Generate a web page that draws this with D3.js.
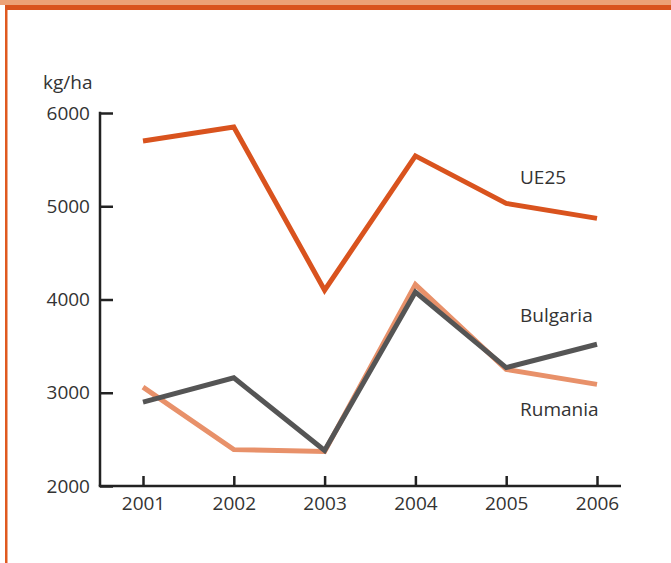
<!DOCTYPE html>
<html>
<head>
<meta charset="utf-8">
<script src="https://cdn.jsdelivr.net/npm/d3@7"></script>
<style>
  body { margin: 0; background: #fff; }
  text { font-family: "Open Sans", "Noto Sans", sans-serif; fill: #333; }
</style>
</head>
<body>
<div id="chart"></div>
<script>
// kg/ha by year
var years = [2001, 2002, 2003, 2004, 2005, 2006];
var ue25 = [5700, 5850, 4100, 5540, 5030, 4870];
var bulgaria = [2900, 3160, 2380, 4080, 3270, 3520];
var rumania = [3060, 2390, 2370, 4160, 3250, 3090];
var yTicks = [2000, 3000, 4000, 5000, 6000];

var series = [
  {name: "Rumania", values: rumania, color: "#e8916a", labelY: 416},
  {name: "Bulgaria", values: bulgaria, color: "#555555", labelY: 322},
  {name: "UE25", values: ue25, color: "#d9531e", labelY: 184}
];

var svgWidth = 671;
var svgHeight = 563;

var svg = d3.select("#chart")
  .append("svg")
  .attr("width", svgWidth)
  .attr("height", svgHeight);

// page frame: orange bands on top, thin orange rule on the left
svg.append("rect").attr("x", 0).attr("y", 0).attr("width", svgWidth).attr("height", 5).attr("fill", "#eca277");
svg.append("rect").attr("x", 5).attr("y", 5).attr("width", svgWidth - 5).attr("height", 5).attr("fill", "#d9541e");
svg.append("rect").attr("x", 5).attr("y", 10).attr("width", 2.5).attr("height", svgHeight - 10).attr("fill", "#e05a20");

var x = d3.scaleLinear()
  .domain([2001, 2006])
  .range([143, 597]);

var y = d3.scaleLinear()
  .domain([2000, 6000])
  .range([486, 113]);

// y axis, ticks pointing into the plot
var yAxis = svg.append("g")
  .attr("transform", "translate(100,0)")
  .call(d3.axisLeft(y).tickValues(yTicks).tickSize(-13).tickSizeOuter(0).tickPadding(10).tickFormat(d3.format("d")));

yAxis.select(".domain").remove();
yAxis.selectAll("line").attr("stroke", "#222").attr("stroke-width", 2.5);
yAxis.selectAll("text").attr("font-size", "19px").attr("fill", "#333");

svg.append("line")
  .attr("x1", 100).attr("x2", 100)
  .attr("y1", y(6000) - 1.25).attr("y2", y(2000))
  .attr("stroke", "#222").attr("stroke-width", 2.5);

// x axis
var xAxis = svg.append("g")
  .attr("transform", "translate(0," + y(2000) + ")")
  .call(d3.axisBottom(x).tickValues(years).tickSize(-10).tickSizeOuter(0).tickPadding(11).tickFormat(d3.format("d")));

xAxis.select(".domain").remove();
xAxis.selectAll("line").attr("stroke", "#222").attr("stroke-width", 2.5);
xAxis.selectAll("text").attr("font-size", "19px").attr("fill", "#333");

svg.append("line")
  .attr("x1", 98.75).attr("x2", 621)
  .attr("y1", y(2000)).attr("y2", y(2000))
  .attr("stroke", "#222").attr("stroke-width", 2.5);

// unit label
svg.append("text")
  .attr("x", 43)
  .attr("y", 89)
  .attr("font-size", "19px")
  .text("kg/ha");

var line = d3.line()
  .x(function(d, i) { return x(years[i]); })
  .y(function(d) { return y(d); });

series.forEach(function(s) {
  svg.append("path")
    .datum(s.values)
    .attr("d", line)
    .attr("fill", "none")
    .attr("stroke", s.color)
    .attr("stroke-width", 5)
    .attr("stroke-linejoin", "miter")
    .attr("stroke-linecap", "butt");

  svg.append("text")
    .attr("x", 520)
    .attr("y", s.labelY)
    .attr("font-size", "19px")
    .text(s.name);
});
</script>
</body>
</html>
